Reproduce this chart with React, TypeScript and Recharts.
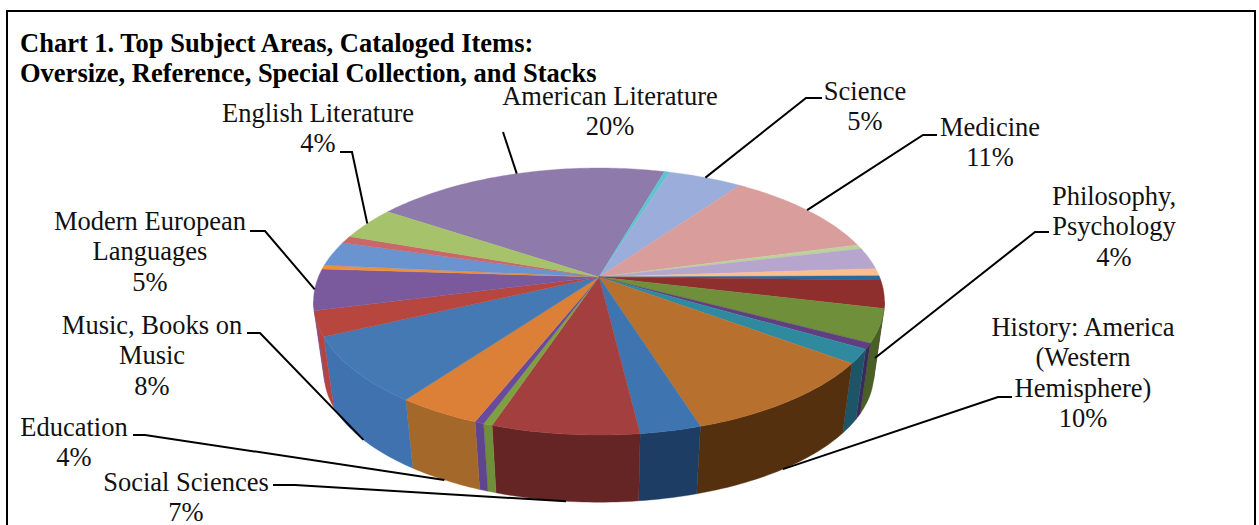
import { PieChart, Pie } from "recharts";

const subjects = [
  "American Literature", "Fine Arts", "Science", "Medicine", "Agriculture",
  "Technology", "Military Science", "Bibliography", "World History", "Philosophy, Psychology",
  "Language", "Law", "History: America (Western Hemisphere)", "Political Science", "Social Sciences",
  "Geography", "Naval Science", "Education", "Music, Books on Music", "Religion",
  "Modern European Languages", "Classics", "Romance Literature", "German Literature", "English Literature",
];
const shares = [
  20, 0.35, 5, 11, 0.55,
  2.6, 0.9, 0.5, 3.4, 4,
  0.7, 1.7, 10, 2.9, 7,
  0.43, 0.44, 4, 8, 3,
  5, 0.5, 3, 0.9, 4,
];
const topColors = [
  "#8e7aab", "#5dc5ce", "#9aaddb", "#d99e9c", "#bdd19c",
  "#b6a6ce", "#fbbe8f", "#2a6a9a", "#8e2f2e", "#6f8f3a",
  "#5f3f82", "#2f8aa0", "#b8702e", "#3e74b0", "#a33f3e",
  "#7fa040", "#6a4a9c", "#db8036", "#4579b4", "#b7463f",
  "#7a5a9c", "#f0903a", "#6a94cf", "#c9676a", "#a6c26a",
];
const sideColors = [
  "#5f4f72", "#3d8288", "#65739a", "#906a68", "#7e8b68",
  "#796f89", "#a77f5f", "#1c4666", "#5a1f1f", "#4a5f26",
  "#3a2a5c", "#1c5468", "#54300f", "#1e3d64", "#652525",
  "#6f8f3a", "#5f4590", "#a5682b", "#3f72ae", "#b5443e",
  "#7a5a9c", "#f0903a", "#6a94cf", "#c9676a", "#a6c26a",
];

const labelLines: Record<string, string[]> = {
  "American Literature": ["American Literature"],
  Science: ["Science"],
  Medicine: ["Medicine"],
  "Philosophy, Psychology": ["Philosophy,", "Psychology"],
  "History: America (Western Hemisphere)": ["History: America", "(Western", "Hemisphere)"],
  "Social Sciences": ["Social Sciences"],
  Education: ["Education"],
  "Music, Books on Music": ["Music, Books on", "Music"],
  "Modern European Languages": ["Modern European", "Languages"],
  "English Literature": ["English Literature"],
};

// x: text centre, y: first baseline, from: where the leader leaves the text, elbow: its bend,
// depth: how far down the wall the leader lands (0 = top rim, 1 = bottom rim)
const labelLayout: Record<string, { x: number; y: number; from: number[]; elbow: number[]; depth: number }> = {
  "American Literature": { x: 610, y: 105, from: [503, 132], elbow: [503, 132], depth: 0 },
  Science: { x: 865, y: 100, from: [822, 98], elbow: [806, 98], depth: 0 },
  Medicine: { x: 990, y: 136, from: [937, 135], elbow: [923, 135], depth: 0 },
  "Philosophy, Psychology": { x: 1114, y: 205, from: [1049, 232], elbow: [1035, 232], depth: 0.45 },
  "History: America (Western Hemisphere)": { x: 1083, y: 336, from: [1012, 397], elbow: [998, 397], depth: 1 },
  "Social Sciences": { x: 186, y: 491, from: [273, 485], elbow: [295, 485], depth: 1 },
  Education: { x: 74, y: 436, from: [133, 435], elbow: [145, 435], depth: 1 },
  "Music, Books on Music": { x: 152, y: 334, from: [247, 333], elbow: [260, 333], depth: 1 },
  "Modern European Languages": { x: 150, y: 230, from: [250, 231], elbow: [265, 231], depth: 0 },
  "English Literature": { x: 318, y: 122, from: [340, 152], elbow: [352, 152], depth: 0 },
};

const WIDTH = 1259;
const HEIGHT = 525;
const CX = 599;
const CY = 277;
const RADIUS = 280.6;
const FONT = "'Liberation Serif', 'Times New Roman', serif";

// tilt of the disc: perspective strength and vertical squash
const PERSPECTIVE = -0.1837;
const SQUASH = 129 / 280.6;
// the underside of the disc is a bit smaller and sits lower
const BASE_SCALE = 0.963;
const BASE_DROP = 73;

const rad = (deg: number) => (deg * Math.PI) / 180;

function rimPoint(cx: number, cy: number, r: number, angle: number, scale = 1, drop = 0) {
  const c = Math.cos(rad(angle));
  const s = -Math.sin(rad(angle));
  const w = 1 + PERSPECTIVE * s;
  return [cx + (r * scale * c) / w, cy + drop + (r * scale * SQUASH * s) / w];
}

function arcAngles(from: number, to: number) {
  const steps = Math.max(1, Math.ceil(Math.abs(to - from)));
  return Array.from({ length: steps + 1 }, (_, i) => from + ((to - from) * i) / steps);
}

const toPath = (pts: number[][]) => `M${pts.map((p) => `${p[0].toFixed(2)},${p[1].toFixed(2)}`).join("L")}Z`;

function TopFace(props: any) {
  const { cx, cy, outerRadius, startAngle, endAngle, fill } = props;
  const rim = arcAngles(startAngle, endAngle).map((a) => rimPoint(cx, cy, outerRadius, a));
  return <path d={toPath([[cx, cy], ...rim])} fill={fill} stroke={fill} strokeWidth={0.4} />;
}

// angles run clockwise and negative here; the wall faces the viewer between these two
const WALL_START = -10.6;
const WALL_END = -169.4;

function wallRanges(a: number, b: number) {
  const out: number[][] = [];
  for (const turn of [0, -360, 360, -720]) {
    const from = Math.min(a + turn, WALL_START);
    const to = Math.max(b + turn, WALL_END);
    if (from > to) out.push([from, to]);
  }
  return out;
}

function WallFace(props: any) {
  const { cx, cy, outerRadius, startAngle, endAngle, payload } = props;
  return (
    <g>
      {wallRanges(startAngle, endAngle).map(([from, to]) => {
        const angles = arcAngles(from, to);
        const upper = angles.map((a) => rimPoint(cx, cy, outerRadius, a));
        const lower = angles.map((a) => rimPoint(cx, cy, outerRadius, a, BASE_SCALE, BASE_DROP)).reverse();
        const fill = payload.side;
        return <path key={from} d={toPath([...upper, ...lower])} fill={fill} stroke={fill} strokeWidth={0.4} />;
      })}
    </g>
  );
}

function SliceLabel(props: any) {
  const { cx, cy, outerRadius, midAngle, index } = props;
  const name = subjects[index];
  const layout = labelLayout[name];
  if (!layout) return null;
  const top = rimPoint(cx, cy, outerRadius, midAngle);
  const base = rimPoint(cx, cy, outerRadius, midAngle, BASE_SCALE, BASE_DROP);
  const end = [top[0] + (base[0] - top[0]) * layout.depth, top[1] + (base[1] - top[1]) * layout.depth];
  const text = [...labelLines[name], `${shares[index]}%`];
  return (
    <g>
      <polyline
        points={[layout.from, layout.elbow, end].map((p) => p.join(",")).join(" ")}
        fill="none"
        stroke="#000"
        strokeWidth={2}
      />
      <text x={layout.x} y={layout.y} textAnchor="middle" fontFamily={FONT} fontSize={26.5} fill="#111">
        {text.map((line, i) => (
          <tspan key={i} x={layout.x} dy={i === 0 ? 0 : 30.4}>
            {line}
          </tspan>
        ))}
      </text>
    </g>
  );
}

const rows = subjects.map((name, i) => ({
  name,
  value: shares[i],
  fill: topColors[i],
  side: sideColors[i],
}));

export default function App() {
  return (
    <div style={{ position: "absolute", left: 0, top: 0, width: WIDTH, height: HEIGHT, background: "#fff" }}>
      <PieChart width={WIDTH} height={HEIGHT} margin={{ top: 0, right: 0, bottom: 0, left: 0 }}>
        <rect x={7} y={11} width={1248} height={530} fill="none" stroke="#000" strokeWidth={2} />
        <text fontFamily={FONT} fontSize={26.5} fontWeight="bold" fill="#000">
          <tspan x={20} y={52}>Chart 1. Top Subject Areas, Cataloged Items:</tspan>
          <tspan x={20} y={82}>Oversize, Reference, Special Collection, and Stacks</tspan>
        </text>
        <Pie
          data={rows}
          dataKey="value"
          cx={CX}
          cy={CY}
          outerRadius={RADIUS}
          startAngle={-213.85}
          endAngle={-573.85}
          stroke="none"
          isAnimationActive={false}
          shape={WallFace}
        />
        <Pie
          data={rows}
          dataKey="value"
          cx={CX}
          cy={CY}
          outerRadius={RADIUS}
          startAngle={-213.85}
          endAngle={-573.85}
          stroke="none"
          isAnimationActive={false}
          shape={TopFace}
          label={SliceLabel}
          labelLine={false}
        />
      </PieChart>
    </div>
  );
}
